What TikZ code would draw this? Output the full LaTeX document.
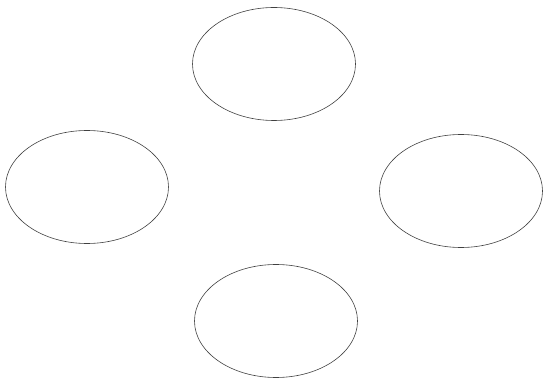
\documentclass[tikz,border=0pt]{standalone}
\usetikzlibrary{shapes.geometric}
\begin{document}
\begin{tikzpicture}[x=1pt,y=-1pt,
  oval/.style={ellipse, draw=black!75, line width=0.6pt, minimum width=163pt, minimum height=113pt, inner sep=0pt}]
\useasboundingbox (0,0) rectangle (543,379);
\node[oval] (top) at (274,64) {};
\node[oval] (left) at (87,187) {};
\node[oval] (right) at (461,191) {};
\node[oval] (bottom) at (276,321) {};
\end{tikzpicture}
\end{document}
